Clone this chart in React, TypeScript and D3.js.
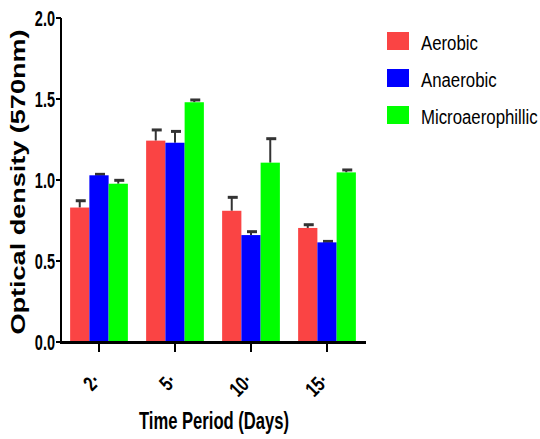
import React from "react";
import * as d3 from "d3";

// values (optical density at 570nm)
const periods = ["2·", "5·", "10·", "15·"];
const seriesNames = ["Aerobic", "Anaerobic", "Microaerophillic"];
const seriesColors = ["#fa4444", "#0000ff", "#00ff00"];
const aerobic = [0.83, 1.243, 0.81, 0.704];
const anaerobic = [1.029, 1.23, 0.66, 0.615];
const microaero = [0.977, 1.48, 1.107, 1.047];
const aerobicErr = [0.042, 0.066, 0.083, 0.02];
const anaerobicErr = [0.006, 0.07, 0.021, 0.006];
const microaeroErr = [0.021, 0.014, 0.148, 0.015];
const yTicks = [0, 0.5, 1.0, 1.5, 2.0];

const W = 540;
const H = 439;
const m = { t: 18, r: 175, b: 97, l: 61 };

export default function App() {
  const values = [aerobic, anaerobic, microaero];
  const errs = [aerobicErr, anaerobicErr, microaeroErr];

  const x = d3
    .scaleBand<string>()
    .domain(periods)
    .range([m.l, W - m.r])
    .paddingInner(0.24)
    .paddingOuter(0.12);
  const xs = d3
    .scaleBand<number>()
    .domain([0, 1, 2])
    .range([0, x.bandwidth()]);
  const y = d3.scaleLinear().domain([0, 2]).range([H - m.b, m.t]);

  const font = "'Liberation Sans', Arial, sans-serif";
  const y0 = y(0);

  return (
    <svg
      width={W}
      height={H}
      style={{ position: "absolute", left: 0, top: 0, background: "#fff" }}
      fontFamily={font}
    >
      {/* bars with upward error bars */}
      {periods.map((p, i) => (
        <g key={p}>
          {values.map((vals, s) => {
            const bx = (x(p) || 0) + (xs(s) || 0);
            const cx = bx + xs.bandwidth() / 2;
            const top = y(vals[i]);
            const errTop = y(vals[i] + errs[s][i]);
            return (
              <g key={s}>
                <line x1={cx} x2={cx} y1={top} y2={errTop} stroke="#333" strokeWidth={2} />
                <line x1={cx - 4} x2={cx + 6} y1={errTop} y2={errTop} stroke="#333" strokeWidth={3} />
                <rect
                  x={bx}
                  y={top}
                  width={xs.bandwidth()}
                  height={y0 - top}
                  fill={seriesColors[s]}
                />
              </g>
            );
          })}
        </g>
      ))}

      {/* y axis */}
      <line x1={m.l} x2={m.l} y1={y(2)} y2={y0 + 1} stroke="#000" strokeWidth={2} />
      {yTicks.map((t) => (
        <g key={t}>
          <line x1={m.l - 5} x2={m.l} y1={y(t)} y2={y(t)} stroke="#000" strokeWidth={2} />
          <text
            transform={`translate(${m.l - 6},${y(t) + 8}) scale(0.66,1)`}
            textAnchor="end"
            fontSize={22}
            fontWeight="bold"
          >
            {t.toFixed(1)}
          </text>
        </g>
      ))}

      {/* x axis */}
      <line x1={m.l - 1} x2={W - m.r + 1} y1={y0 + 0.5} y2={y0 + 0.5} stroke="#000" strokeWidth={3} />
      {periods.map((p) => {
        const cx = (x(p) || 0) + x.bandwidth() / 2;
        return (
          <g key={p}>
            <line x1={cx} x2={cx} y1={y0 + 2} y2={y0 + 10} stroke="#000" strokeWidth={2} />
            <text
              transform={`translate(${cx + 3},${y0 + 40}) rotate(-45) scale(0.75,1)`}
              textAnchor="end"
              fontSize={21}
              fontWeight="bold"
            >
              {p}
            </text>
          </g>
        );
      })}

      {/* axis titles */}
      <text
        x={(m.l + W - m.r) / 2 + 1}
        y={429}
        textAnchor="middle"
        fontSize={23}
        fontWeight="bold"
        textLength={150}
        lengthAdjust="spacingAndGlyphs"
      >
        Time Period (Days)
      </text>
      <text
        transform={`translate(25,${(y(2) + y0) / 2 + 2}) rotate(-90)`}
        textAnchor="middle"
        fontSize={20}
        fontWeight="bold"
        textLength={305}
        lengthAdjust="spacingAndGlyphs"
      >
        Optical density (570nm)
      </text>

      {/* legend */}
      {seriesNames.map((n, i) => (
        <g key={n} transform={`translate(387,${32 + i * 37})`}>
          <rect width={22} height={18} fill={seriesColors[i]} />
          <text transform="translate(34,18) scale(0.8,1)" fontSize={21}>
            {n}
          </text>
        </g>
      ))}
    </svg>
  );
}
